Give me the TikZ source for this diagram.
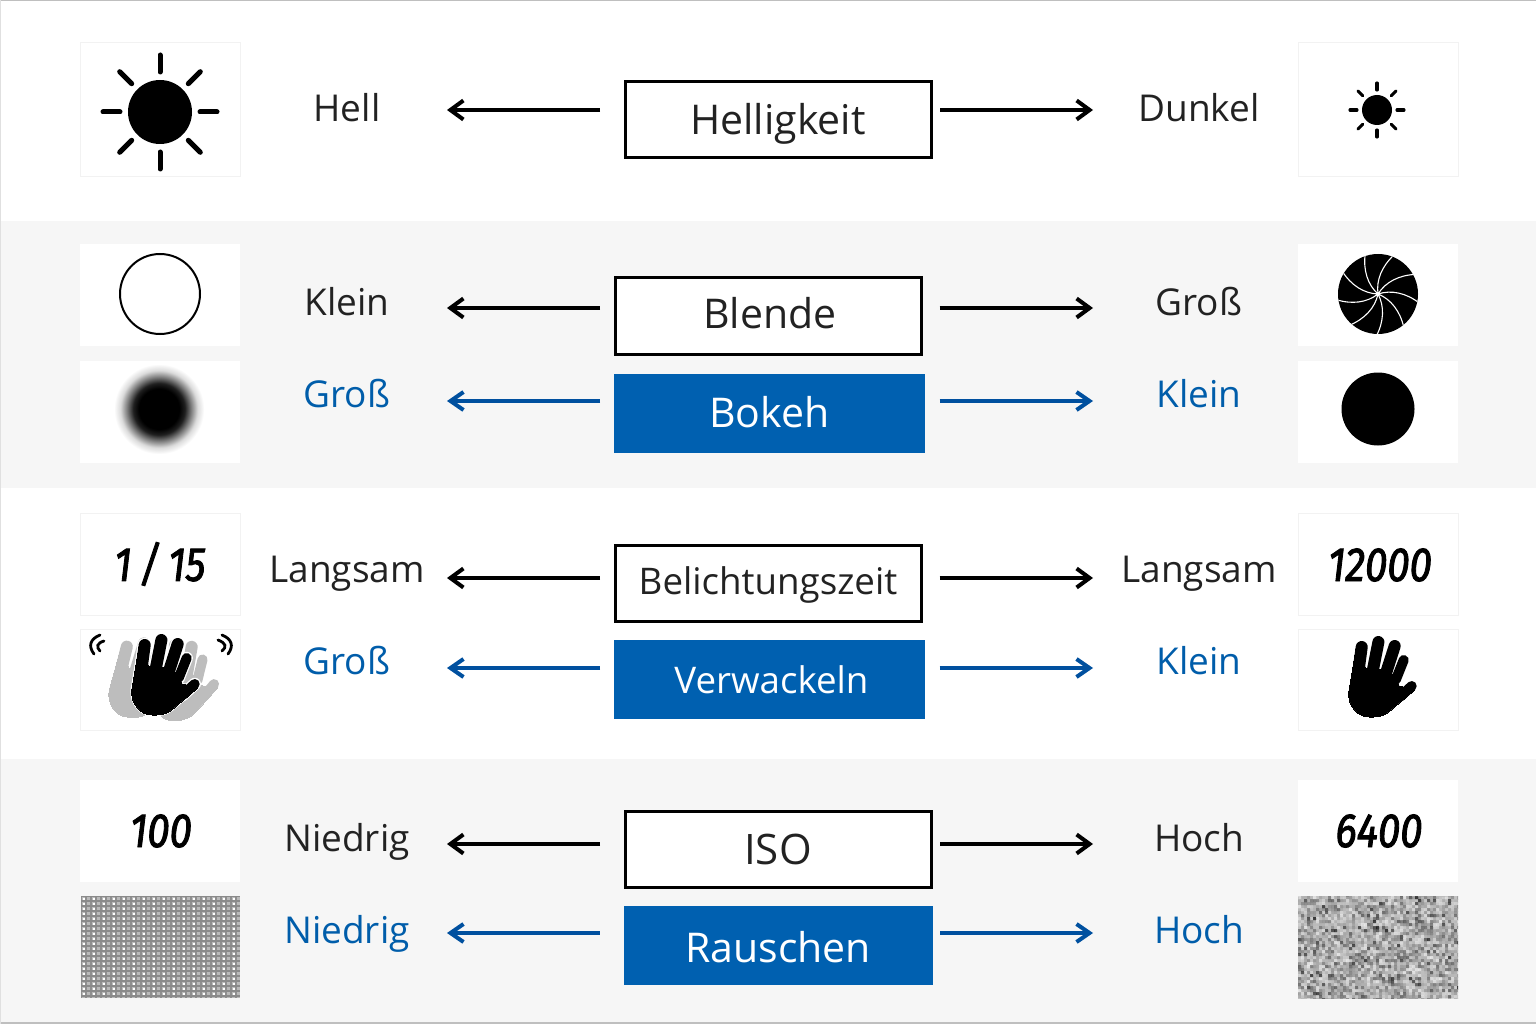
\documentclass[tikz,border=0pt]{standalone}
\usepackage{fontspec}
\setmainfont{Open Sans}
\newfontfamily\numfont[FakeStretch=0.84,FakeBold=1.8]{Fira Sans}
\usetikzlibrary{arrows.meta}
\definecolor{bandgrey}{HTML}{F6F6F6}
\definecolor{tileedge}{HTML}{F2F2F2}
\definecolor{boxblue}{HTML}{0060B0}
\definecolor{linkblue}{HTML}{00509F}
\definecolor{textblue}{HTML}{005DAA}
\definecolor{inkdark}{HTML}{222222}
\definecolor{handgrey}{HTML}{BDBDBD}
\pgfdeclareradialshading{blurdisk}{\pgfpoint{0bp}{0bp}}{color(0bp)=(black); color(11bp)=(black); color(14bp)=(black!88); color(17.5bp)=(black!50); color(21bp)=(black!14); color(24.5bp)=(white); color(50bp)=(white)}
\tikzset{
  tile/.style={draw=tileedge,fill=white,line width=1pt,minimum width=160pt,inner sep=0pt},
  plainbox/.style={draw=black,fill=white,line width=3pt,minimum width=306pt,minimum height=76pt,inner sep=0pt,text=inkdark,text height=30pt,font=\fontsize{41}{48}\selectfont},
  bluebox/.style={draw=boxblue,fill=boxblue,line width=1pt,minimum height=78pt,inner sep=0pt,text=white,text height=30pt,font=\fontsize{41}{48}\selectfont},
  smallbox/.style={font=\fontsize{36.7}{44}\selectfont},
  lab/.style={inner sep=0pt,anchor=base,text=inkdark,font=\fontsize{37}{44}\selectfont},
  bluelab/.style={lab,text=textblue},
  num/.style={inner sep=0pt,text=black,font=\numfont\itshape\fontsize{48}{56}\selectfont},
  arr/.style={draw=black,line width=3.2pt,-{Straight Barb[length=13pt,width=19pt,line width=4pt]}},
  bluearr/.style={draw=linkblue,line width=3.3pt,-{Straight Barb[length=13pt,width=18pt,line width=4pt]}},
}
\newcommand{\handbody}[2]{%
  \filldraw[#1,line width=#2pt,line join=round] (-20.5,-36) -- (-28,9) .. controls (-29,22) and (-20,34) .. (-7,34)
     .. controls (-1,34.5) and (7,33) .. (12,29) -- (38,7) -- (22.7,3) -- (15,-9.7) -- (2.7,-13.7) -- (-10.7,-14.7) -- cycle;
  \pgfmathsetmacro{\wa}{12+#2}\pgfmathsetmacro{\wb}{10+#2}
  \draw[#1,line width=\wa pt,line cap=round] (-15,-36) -- (-19,-6);
  \draw[#1,line width=\wa pt,line cap=round] (1.7,-41) -- (-4,-12);
  \draw[#1,line width=\wa pt,line cap=round] (18,-37) -- (8.7,-8);
  \draw[#1,line width=\wb pt,line cap=round] (27,-23) -- (19,-3);
  \draw[#1,line width=\wb pt,line cap=round] (35,3) -- (23,14);
}
\begin{document}
\begin{tikzpicture}[x=1pt,y=-1pt]
\useasboundingbox (0,0) rectangle (1536,1024);
\fill[white] (0,0) rectangle (1536,1024);
\fill[bandgrey] (0,221) rectangle (1536,488);
\fill[bandgrey] (0,759) rectangle (1536,1022);
\draw[draw=black!25,line width=1.2pt] (0,0.6) -- (1536,0.6);
\draw[draw=black!25,line width=1.2pt] (0,1023) -- (1536,1023);
\draw[draw=black!12,line width=1.2pt] (0.6,0) -- (0.6,1024);

% tiles
\node[tile,minimum height=134pt] (tHellImg) at (160.5,110) {};
\node[tile,minimum height=134pt] (tDunkelImg) at (1378,110) {};
\node[tile,draw=none,minimum height=102pt] (tKleinImg) at (160,295) {};
\node[tile,draw=none,minimum height=102pt] (tGrossImg) at (1377.5,295) {};
\node[tile,draw=none,minimum height=102pt] (tBlurImg) at (160,412) {};
\node[tile,draw=none,minimum height=102pt] (tDiscImg) at (1377.5,412) {};
\node[tile,minimum height=102pt] (tTimeA) at (160.5,564) {};
\node[tile,minimum height=102pt] (tTimeB) at (1378,564) {};
\node[tile,minimum height=101pt] (tShake) at (160.5,679.5) {};
\node[tile,minimum height=101pt] (tSteady) at (1378,679.5) {};
\node[tile,draw=none,minimum height=102pt] (tIsoA) at (160,831) {};
\node[tile,draw=none,minimum height=102pt] (tIsoB) at (1377.5,831) {};

% big sun
\begin{scope}[shift={(160,112)}]
  \fill[black] (0,0) circle (32);
  \foreach \a in {0,45,...,315}{\draw[black,line width=5pt,line cap=round] (\a:40) -- (\a:57);}
\end{scope}
% small sun
\begin{scope}[shift={(1377,110)}]
  \fill[black] (0,0) circle (15);
  \foreach \a in {0,45,...,315}{\draw[black,line width=3.1pt,line cap=round] (\a:20) -- (\a:27);}
\end{scope}

% open circle, aperture
\draw[black,line width=2pt,fill=white] (160,294) circle (40);
\begin{scope}[shift={(1378,294)}]
  \fill[black] (0,0) circle (40);
  \begin{scope}
    \clip (0,0) circle (40);
    \foreach \a in {0,40,...,320}{
      \draw[white,line width=1.1pt,rotate=\a] (0,0) .. controls (-2,-14) and (4,-28) .. (16,-39);
    }
  \end{scope}
  \fill[white] (0,0) circle (2.2);
\end{scope}

% blur, disc
\shade[shading=blurdisk] (159,409) circle (46);
\fill[black] (1378,409) circle (36.5);

% numbers
\node[num] (n115) at (160,564) {1\,/\,15};
\node[num] (n12000) at (1380,565) {12000};
\node[num] (n100) at (161,831) {100};
\node[num] (n6400) at (1379,831) {6400};

% shaking hand
\begin{scope}[shift={(138,684)},rotate=-6]\handbody{handgrey}{0}\end{scope}
\begin{scope}[shift={(179,686)},rotate=8]\handbody{handgrey}{0}\end{scope}
\begin{scope}[shift={(159.7,681)}]
  \handbody{white}{2.5}
  \handbody{black}{0}
\end{scope}
\draw[black,line width=2.8pt,line cap=round] (94,654) .. controls (88,646) and (90,639) .. (100,635);
\draw[black,line width=2.8pt,line cap=round] (100,651) .. controls (96,647) and (97,643) .. (104,641);
\draw[black,line width=2.8pt,line cap=round] (228,654) .. controls (234,646) and (232,639) .. (222,635);
\draw[black,line width=2.8pt,line cap=round] (222,651) .. controls (227,647) and (226,643) .. (218,640);
% steady hand
\begin{scope}[shift={(1376.7,683)}]\handbody{black}{0}\end{scope}

% regular noise
\begin{scope}
  \clip (81,896) rectangle (240,998);
  \fill[black!27] (81,896) rectangle (240,998);
  \foreach \i in {0,...,31}{\draw[black!44,line width=2pt] (81+\i*5,896) -- (81+\i*5,998);}
  \foreach \j in {0,...,20}{\draw[black!46,line width=2pt] (81,896+\j*5) -- (240,896+\j*5);}
  \foreach \i in {0,2,...,30}{\foreach \j in {0,...,19}{\fill[white] (83+\i*5,898+\j*5) rectangle +(2.2,1.6);}}
\end{scope}
\node[draw=none,minimum width=159pt,minimum height=102pt,inner sep=0pt] (tRegular) at (160.5,947) {};
% random noise
\pgfmathsetseed{4711}
\begin{scope}
  \clip (1298,896) rectangle (1458,998);
  \fill[black!30] (1298,896) rectangle (1458,998);
  \foreach \i in {-1,...,53}{\foreach \j in {-1,...,34}{
    \pgfmathsetmacro{\lev}{int(8+random(0,26)+random(0,7)*random(0,8))}
    \fill[black!\lev,opacity=0.8] (1298+\i*3,896+\j*3) rectangle +(4,4);
  }}
\end{scope}
\node[draw=none,minimum width=160pt,minimum height=102pt,inner sep=0pt] (tRandom) at (1378,947) {};

% centre boxes
\node[plainbox,text depth=0pt] (helligkeit) at (778,119.5) {Helligkeit};
\node[plainbox,text depth=6pt] (blende) at (768,316) {\hspace*{4pt}Blende};
\node[bluebox,minimum width=310pt,text depth=3pt] (bokeh) at (769,413.5) {\hspace*{1pt}Bokeh};
\node[plainbox,smallbox,text depth=7pt] (zeit) at (768,583) {Belichtungszeit};
\node[bluebox,smallbox,minimum width=310pt,text depth=3pt] (verwackeln) at (769,679.5) {\hspace*{5pt}Verwackeln};
\node[plainbox,text depth=0pt,font=\fontsize{42}{48}\selectfont] (iso) at (778,849.5) {ISO};
\node[bluebox,minimum width=308pt,text height=34pt,text depth=0pt] (rauschen) at (778,945) {Rauschen};

% labels
\node[lab] (hell) at (347,122) {Hell};
\node[lab] (dunkel) at (1199,122) {Dunkel};
\node[lab] (kleinL) at (347,316) {Klein};
\node[lab] (grossR) at (1199,316) {Groß};
\node[bluelab] (grossL) at (347,407) {Groß};
\node[bluelab] (kleinR) at (1199,407) {Klein};
\node[lab] (langL) at (347,582.5) {Langsam};
\node[lab] (langR) at (1199,582.5) {Langsam};
\node[bluelab] (wackL) at (347,674) {Groß};
\node[bluelab] (wackR) at (1199,674) {Klein};
\node[lab] (niedL) at (347,851) {Niedrig};
\node[lab] (hochL) at (1199,851) {Hoch};
\node[bluelab] (rauschL) at (347,943) {Niedrig};
\node[bluelab] (rauschR) at (1199,943) {Hoch};

% arrow tips
\coordinate (a1l) at (447,110); \coordinate (a1r) at (1093,110);
\coordinate (a2l) at (447,308); \coordinate (a2r) at (1093,308);
\coordinate (a3l) at (447,401); \coordinate (a3r) at (1093,401);
\coordinate (a4l) at (447,578); \coordinate (a4r) at (1093,578);
\coordinate (a5l) at (447,668); \coordinate (a5r) at (1093,668);
\coordinate (a6l) at (447,844); \coordinate (a6r) at (1093,844);
\coordinate (a7l) at (447,933); \coordinate (a7r) at (1093,933);

\draw[arr] ([xshift=-23.5pt]helligkeit.west |- a1l) -- (a1l);
\draw[arr] ([xshift=7.5pt]helligkeit.east |- a1r) -- (a1r);
\draw[arr] ([xshift=-13.5pt]blende.west |- a2l) -- (a2l);
\draw[arr] ([xshift=17pt]blende.east |- a2r) -- (a2r);
\draw[bluearr] ([xshift=-13.5pt]bokeh.west |- a3l) -- (a3l);
\draw[bluearr] ([xshift=15pt]bokeh.east |- a3r) -- (a3r);
\draw[arr] ([xshift=-13.5pt]zeit.west |- a4l) -- (a4l);
\draw[arr] ([xshift=17pt]zeit.east |- a4r) -- (a4r);
\draw[bluearr] ([xshift=-13.5pt]verwackeln.west |- a5l) -- (a5l);
\draw[bluearr] ([xshift=15pt]verwackeln.east |- a5r) -- (a5r);
\draw[arr] ([xshift=-23.5pt]iso.west |- a6l) -- (a6l);
\draw[arr] ([xshift=7.5pt]iso.east |- a6r) -- (a6r);
\draw[bluearr] ([xshift=-24pt]rauschen.west |- a7l) -- (a7l);
\draw[bluearr] ([xshift=7.5pt]rauschen.east |- a7r) -- (a7r);
\end{tikzpicture}
\end{document}
